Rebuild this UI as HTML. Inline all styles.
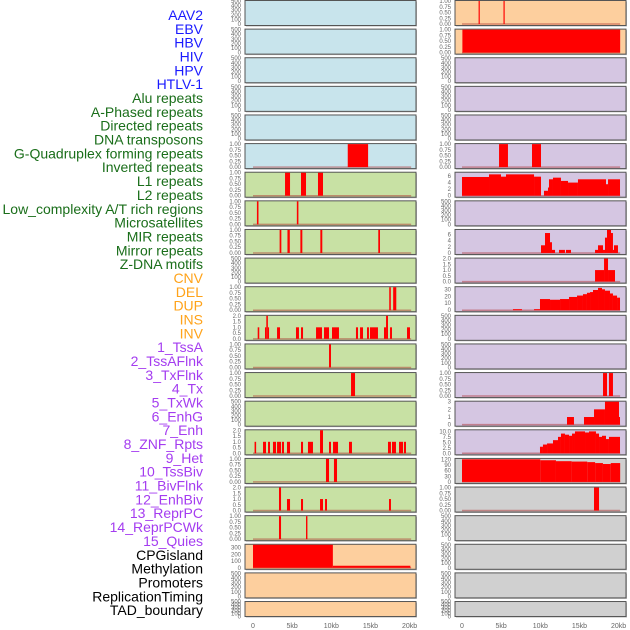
<!DOCTYPE html>
<html><head><meta charset="utf-8"><style>
html,body{margin:0;padding:0;background:#fff;width:630px;height:630px;overflow:hidden}
svg{display:block}
</style></head><body>
<svg id="chart" width="630" height="630" xmlns="http://www.w3.org/2000/svg" font-family="Liberation Sans, sans-serif"></svg>
<script>
const labels=["AAV2","EBV","HBV","HIV","HPV","HTLV-1","Alu repeats","A-Phased repeats","Directed repeats","DNA transposons","G-Quadruplex forming repeats","Inverted repeats","L1 repeats","L2 repeats","Low_complexity A/T rich regions","Microsatellites","MIR repeats","Mirror repeats","Z-DNA motifs","CNV","DEL","DUP","INS","INV","1_TssA","2_TssAFlnk","3_TxFlnk","4_Tx","5_TxWk","6_EnhG","7_Enh","8_ZNF_Rpts","9_Het","10_TssBiv","11_BivFlnk","12_EnhBiv","13_ReprPC","14_ReprPCWk","15_Quies","CPGisland","Methylation","Promoters","ReplicationTiming","TAD_boundary"];
const labelGroups=[6,13,5,15,5];
const groupColors=["#1a1aff","#1a6e1a","#ffa31a","#a43cf0","#000000"];
const xTicks=[0,5,10,15,20];
const xTickLabels=["0","5kb","10kb","15kb","20kb"];
const E=[0,100,200,300,400,500];
const B=[0,0.25,0.5,0.75,1];
const BL=["0.00","0.25","0.50","0.75","1.00"];
const T2=[0,0.5,1,1.5,2];
const T2L=["0.0","0.5","1.0","1.5","2.0"];
const leftBg=["#c8e4ec","#c8e4ec","#c8e4ec","#c8e4ec","#c8e4ec","#c8e4ec","#c8e1a4","#c8e1a4","#c8e1a4","#c8e1a4","#c8e1a4","#c8e1a4","#c8e1a4","#c8e1a4","#c8e1a4","#c8e1a4","#c8e1a4","#c8e1a4","#c8e1a4","#fdcf9e","#fdcf9e","#fdcf9e"];
const rightBg=["#fdcf9e","#fdcf9e","#d5c6e2","#d5c6e2","#d5c6e2","#d5c6e2","#d5c6e2","#d5c6e2","#d5c6e2","#d5c6e2","#d5c6e2","#d5c6e2","#d5c6e2","#d5c6e2","#d5c6e2","#d5c6e2","#d0d0d0","#d0d0d0","#d0d0d0","#d0d0d0","#d0d0d0","#d0d0d0"];
// segments: [startKb, endKb, value]
const leftSeg=[
[],[],[],[],[],
[[12.1,14.7,1]],
[[4.09,4.73,1],[6.13,6.77,1],[8.3,8.94,1]],
[[0.5,0.7,1],[5.6,5.8,1]],
[[3.4,3.62,1],[4.4,4.7,1],[6.05,6.3,1],[8.6,8.85,1],[16.0,16.22,1]],
[],
[[17.4,17.6,1],[17.9,18.3,1]],
[[0.6,0.8,1],[1.53,1.7,1],[1.7,1.9,2],[1.9,2.05,1],[3.07,3.45,1],[5.49,5.87,1],[6.13,6.39,1],[8.05,8.81,1],[9.07,9.71,1],[10.09,10.98,1],[13.15,13.41,1],[13.67,14.05,1],[14.56,14.81,1],[14.94,15.96,1],[16.73,16.99,1],[16.99,17.24,2],[17.5,17.75,1],[19.67,20.05,1]],
[[9.71,9.96,1]],
[[12.52,13.03,1]],
[],
[[0.2,0.4,1],[1.28,1.66,1],[1.92,2.17,1],[2.55,2.94,1],[3.07,3.58,1],[3.7,3.96,1],[4.34,4.73,1],[6.13,6.39,1],[7.02,7.66,1],[8.56,8.94,2],[9.71,9.96,1],[10.22,10.86,1],[12.26,12.64,1],[17.24,17.62,1],[17.75,18.26,1],[18.65,19.16,1],[19.28,19.54,1]],
[[9.32,9.71,1],[10.34,10.73,1]],
[[3.32,3.58,2],[4.34,4.73,1],[6.13,6.39,1],[8.56,8.94,1],[9.2,9.45,1],[17.37,17.62,1]],
[[3.32,3.58,1],[6.77,6.95,1]],
[[0,10.2,340],[10.2,20.1,30]],
[],[]
];
const rightSeg=[
[[2.12,2.27,1],[5.3,5.45,1]],
[[0.05,20.2,1]],
[],[],[],
[[4.73,5.87,1],[8.94,10.09,1]],
[[0,3.45,5.7],[3.45,4.98,6.5],[4.98,5.62,5.8],[5.62,9.2,6.5],[9.2,10.09,5.8],[10.47,10.98,1.5],[10.98,11.11,2.5],[11.11,11.62,5],[11.62,12.64,5.5],[12.64,13.54,4.5],[13.54,14.81,4],[14.81,18.39,5],[18.39,18.65,3.5],[18.65,20.18,5]],
[],
[[10.09,10.6,2.5],[10.6,11.24,6.5],[11.24,11.49,3.5],[11.49,11.88,1],[12.39,13.15,1],[13.28,13.92,1],[16.99,17.37,1],[17.37,18.01,2.5],[18.01,18.26,1],[18.26,18.52,5],[18.52,19.03,7.5],[19.03,19.28,6.5],[19.28,19.41,1],[19.41,19.92,2.5]],
[[16.99,18.14,1],[18.14,18.65,2],[18.65,19.54,1]],
[[6.51,7.66,1.5],[9.2,9.96,1.5],[9.96,11.24,16],[11.24,12.52,15],[12.52,13.67,16],[13.67,14.69,19],[14.69,15.45,21],[15.45,15.96,23],[15.96,16.35,25],[16.35,16.73,26],[16.73,17.37,29],[17.37,17.88,32],[17.88,18.26,30],[18.26,18.9,28],[18.9,19.28,24],[19.28,19.8,21],[19.8,20.18,18]],
[],[],
[[18.01,18.52,1],[18.77,19.28,1]],
[[13.41,14.3,1],[15.58,16.86,1],[16.86,18.26,2],[18.26,20.05,3],[20.05,20.18,1]],
[[9.96,10.34,3],[10.34,10.86,4],[10.86,11.62,4.5],[11.62,12.26,6],[12.26,12.64,7.5],[12.64,13.15,9],[13.15,13.67,8.5],[13.67,14.05,8],[14.05,14.43,9],[14.43,15.71,10],[15.71,16.22,9.5],[16.22,17.11,10],[17.11,17.5,9],[17.5,17.88,7.5],[17.88,18.39,8],[18.39,18.77,6.5],[18.77,20.18,7.5]],
[[0,10,120],[10,12,115],[12,14,110],[14,16,108],[16,17,105],[17,18,100],[18,19,95],[19,20.2,100]],
[[16.86,17.5,1]],
[],[],[],[]
];
const leftMax=[500,500,500,500,500,1,1,1,1,500,1,2,1,1,500,2,1,2,1,340,500,500];
const rightMax=[1,1,500,500,500,1,7,500,7.5,2,33,500,500,1,3,10.5,122,1,500,500,500,500];
const leftTicks=[E,E,E,E,E,B,B,B,B,E,B,T2,B,B,E,T2,B,T2,B,[0,100,200,300],E,E];
const rightTicks=[B,B,E,E,E,B,[0,2,4,6],E,[0,2,4,6],T2,[0,10,20,30],E,E,B,[0,1,2,3],[0,2.5,5,7.5,10],[0,30,60,90,120],B,E,E,E,E];
const tickFmt={};
function fmt(arr,v){
  if(arr===B) return BL[B.indexOf(v)];
  if(arr===T2) return T2L[T2.indexOf(v)];
  if(arr.length===5 && arr[4]===10) return v.toFixed(1);
  return String(v);
}
const svg=document.getElementById('chart');
const NS='http://www.w3.org/2000/svg';
function mk(tag,attrs,parent){const e=document.createElementNS(NS,tag);for(const k in attrs)e.setAttribute(k,attrs[k]);(parent||svg).appendChild(e);return e;}
// labels
let li=0;
labelGroups.forEach((n,g)=>{for(let k=0;k<n;k++){const t=mk('text',{x:203,y:20+li*13.84,'text-anchor':'end','font-size':'14',fill:groupColors[g]});


t.textContent=labels[li];li++;}});
const panels=[{x0:253,x1:245,x2:416,seg:leftSeg,max:leftMax,ticks:leftTicks,bg:leftBg,name:'left'},{x0:462,x1:455,x2:626,seg:rightSeg,max:rightMax,ticks:rightTicks,bg:rightBg,name:'right'}];
const pxPerKb=7.83;
panels.forEach(p=>{
  const xs=kb=>p.x0+kb*pxPerKb;
  for(let r=0;r<22;r++){
    const top=0.5+r*28.62, h=(r===21?15:25), bot=top+h;
    const g=mk('g',{});
    
    
    mk('rect',{x:p.x1+1,y:top+1,width:p.x2-p.x1,height:h,fill:'#bbb'},g);
    const bgR=mk('rect',{x:p.x1,y:top,width:p.x2-p.x1,height:h,fill:p.bg[r],stroke:'#555','stroke-width':1},g);
    const y0=bot-1.5, ymax=p.max[r];
    const ys=v=>y0-(v/ymax)*(y0-top-0.5);
    const segs=p.seg[r];
    if(segs.length){
      mk('line',{x1:xs(0),x2:xs(20.2),y1:y0,y2:y0,stroke:'rgba(170,40,40,0.45)','stroke-width':1.5},g);
    }
    segs.forEach(s=>{
      const b=mk('rect',{x:xs(s[0]),y:ys(s[2]),width:Math.max(1,xs(s[1])-xs(s[0])),height:y0-ys(s[2]),fill:'#ff0000'},g);
      
      
    });
    p.ticks[r].forEach(v=>{
      const ty=(r===21)?top+h-(v/500)*h:ys(v);
      const t=mk('text',{x:p.x1-4,y:ty+2,'text-anchor':'end','font-size':'6',fill:'#666'},g);
      
      
      t.textContent=fmt(p.ticks[r],v);
    });
  }
  xTicks.forEach((v,i)=>{
    const t=mk('text',{x:xs(v),y:628,'text-anchor':'middle','font-size':'7',fill:'#666'});
    
    
    t.textContent=xTickLabels[i];
  });
});
</script>
</body></html>
